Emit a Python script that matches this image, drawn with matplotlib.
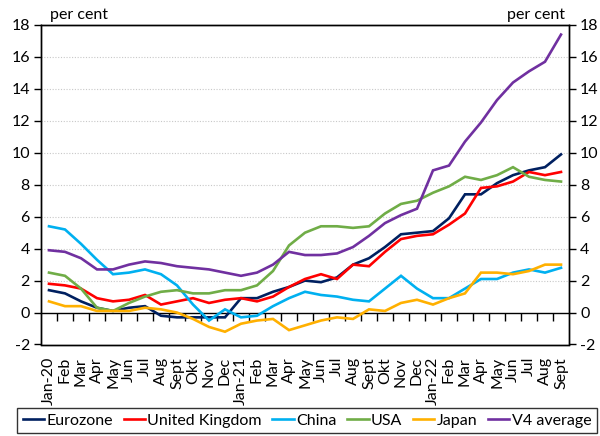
import matplotlib
matplotlib.use("Agg")
import matplotlib.pyplot as plt
from matplotlib.ticker import MultipleLocator

plt.rcParams['font.family'] = ['Lato', 'DejaVu Sans']
plt.rcParams['axes.unicode_minus'] = False

months = ["Jan-20", "Feb", "Mar", "Apr", "May", "Jun", "Jul", "Aug", "Sept", "Okt", "Nov", "Dec",
          "Jan-21", "Feb", "Mar", "Apr", "May", "Jun", "Jul", "Aug", "Sept", "Okt", "Nov", "Dec",
          "Jan-22", "Feb", "Mar", "Apr", "May", "Jun", "Jul", "Aug", "Sept"]

eurozone = [1.4, 1.2, 0.7, 0.3, 0.1, 0.3, 0.4, -0.2, -0.3, -0.3, -0.3, -0.3,
            0.9, 0.9, 1.3, 1.6, 2.0, 1.9, 2.2, 3.0, 3.4, 4.1, 4.9, 5.0,
            5.1, 5.9, 7.4, 7.4, 8.1, 8.6, 8.9, 9.1, 9.9]
united_kingdom = [1.8, 1.7, 1.5, 0.9, 0.7, 0.8, 1.1, 0.5, 0.7, 0.9, 0.6, 0.8,
                  0.9, 0.7, 1.0, 1.6, 2.1, 2.4, 2.1, 3.0, 2.9, 3.8, 4.6, 4.8,
                  4.9, 5.5, 6.2, 7.8, 7.9, 8.2, 8.8, 8.6, 8.8]
china = [5.4, 5.2, 4.3, 3.3, 2.4, 2.5, 2.7, 2.4, 1.7, 0.5, -0.5, 0.2,
         -0.3, -0.2, 0.4, 0.9, 1.3, 1.1, 1.0, 0.8, 0.7, 1.5, 2.3, 1.5,
         0.9, 0.9, 1.5, 2.1, 2.1, 2.5, 2.7, 2.5, 2.8]
usa = [2.5, 2.3, 1.5, 0.3, 0.1, 0.6, 1.0, 1.3, 1.4, 1.2, 1.2, 1.4,
       1.4, 1.7, 2.6, 4.2, 5.0, 5.4, 5.4, 5.3, 5.4, 6.2, 6.8, 7.0,
       7.5, 7.9, 8.5, 8.3, 8.6, 9.1, 8.5, 8.3, 8.2]
japan = [0.7, 0.4, 0.4, 0.1, 0.1, 0.1, 0.3, 0.2, 0.0, -0.4, -0.9, -1.2,
         -0.7, -0.5, -0.4, -1.1, -0.8, -0.5, -0.3, -0.4, 0.2, 0.1, 0.6, 0.8,
         0.5, 0.9, 1.2, 2.5, 2.5, 2.4, 2.6, 3.0, 3.0]
v4_average = [3.9, 3.8, 3.4, 2.7, 2.7, 3.0, 3.2, 3.1, 2.9, 2.8, 2.7, 2.5,
              2.3, 2.5, 3.0, 3.8, 3.6, 3.6, 3.7, 4.1, 4.8, 5.6, 6.1, 6.5,
              8.9, 9.2, 10.7, 11.9, 13.3, 14.4, 15.1, 15.7, 17.4]

series = [
    ("Eurozone", eurozone, "#002060"),
    ("United Kingdom", united_kingdom, "#ff0000"),
    ("China", china, "#00b0f0"),
    ("USA", usa, "#70ad47"),
    ("Japan", japan, "#ffb000"),
    ("V4 average", v4_average, "#7030a0"),
]

fig = plt.figure(figsize=(6.0, 4.36), dpi=100)
ax = fig.add_axes([41/600, 1-344.5/436, 528/600, 319.5/436])

x = list(range(len(months)))
handles = []
for name, vals, col in series:
    h, = ax.plot(x, vals, color=col, lw=1.9, label=name, solid_joinstyle='miter', zorder=3)
    handles.append(h)

ax.set_xlim(-0.5, len(months) - 0.5)
ax.set_ylim(-2, 18)
ax.yaxis.set_major_locator(MultipleLocator(2))

# gridlines
for yv in range(2, 18, 2):
    ax.axhline(yv, color="#c8c8c8", lw=0.8, ls=(0, (1, 1.5)), zorder=1)

# x axis labels at bottom
ax.set_xticks(x)
ax.set_xticklabels(months, rotation=90, fontsize=11.5)
ax.tick_params(axis='x', length=0, pad=9)

for s in ax.spines.values():
    s.set_color("black")
    s.set_linewidth(1.0)

ax.tick_params(axis='y', direction='out', length=5, width=1, labelsize=11.5, pad=3)

# zero line with ticks between categories
sec = ax.secondary_xaxis(0.1)
sec.set_xticks([i + 0.5 for i in range(len(months) - 1)])
sec.set_xticklabels([])
sec.tick_params(axis='x', direction='out', length=6, width=1)
sec.spines['bottom'].set_linewidth(1.0)

# right axis
ax2 = ax.twinx()
ax2.set_ylim(-2, 18)
ax2.yaxis.set_major_locator(MultipleLocator(2))
ax2.tick_params(axis='y', direction='out', length=5, width=1, labelsize=11.5, pad=3)
for s in ax2.spines.values():
    s.set_linewidth(1.0)

fig.text(50/600, 1-15/436, "per cent", fontsize=11.5, ha='left', va='center')
fig.text(565/600, 1-15/436, "per cent", fontsize=11.5, ha='right', va='center')

leg = fig.legend(handles=handles, loc='center', bbox_to_anchor=(307/600, 1-420.5/436),
                 ncol=6, fontsize=11.5, frameon=True, fancybox=False, edgecolor='black',
                 handlelength=1.35, handletextpad=0.15, columnspacing=0.65, borderpad=0.35,
                 borderaxespad=0.0)
leg.get_frame().set_linewidth(1.0)

fig.savefig("out.png", dpi=100)
